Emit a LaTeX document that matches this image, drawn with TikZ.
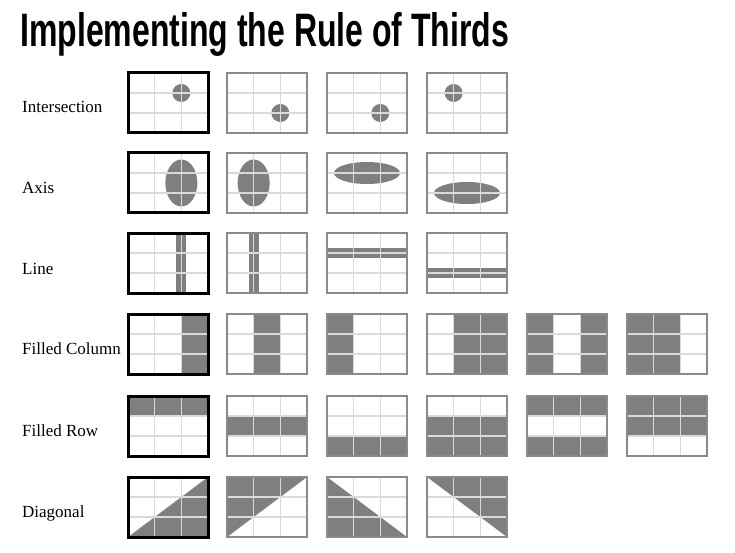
\documentclass[tikz,border=0pt]{standalone}
\usepackage{fontspec}
\setmainfont{Liberation Serif}
\newfontfamily\titlefont{Liberation Sans}
\usepackage{graphicx}
\definecolor{shadegray}{HTML}{7F7F7F}
\definecolor{gridgray}{HTML}{DADADA}
\definecolor{framegray}{HTML}{8A8A8A}
\tikzset{
  gridln/.style={draw=gridgray, line width=1.5pt},
  thinframe/.style={draw=framegray, line width=1.8pt},
  thickframe/.style={draw=black, line width=3pt},
  blob/.style={fill=shadegray},
  rowlabel/.style={anchor=base west, inner sep=0pt, font=\fontsize{17}{20}\selectfont},
}
\newcommand\rtframe[4]{%
  \begin{scope}[shift={(#1,#2)}]
    #4
    \draw[gridln] (80/3,0)--(80/3,60) (160/3,0)--(160/3,60) (0,20)--(80,20) (0,40)--(80,40);
    \draw[#3] (0,0) rectangle (80,60);
  \end{scope}}
\begin{document}
\begin{tikzpicture}[x=1pt,y=-1pt]
\fill[white] (0,0) rectangle (735,553);
\useasboundingbox (0,0) rectangle (735,553);

\node[anchor=base west, inner sep=0pt] (title) at (20,47) {\resizebox{489pt}{34pt}{\titlefont\bfseries Implementing the Rule of Thirds}};

\node[rowlabel] (l1) at (22,113) {Intersection};
\node[rowlabel] (l2) at (22,194) {Axis};
\node[rowlabel] (l3) at (22,274) {Line};
\node[rowlabel] (l4) at (22,354) {Filled Column};
\node[rowlabel] (l5) at (22,436) {Filled Row};
\node[rowlabel] (l6) at (22,517) {Diagonal};

% Row 1: Intersection
\rtframe{128}{73}{thickframe}{\fill[blob] (160/3,20) circle[radius=9pt];}
\rtframe{227}{73}{thinframe}{\fill[blob] (160/3,40) circle[radius=9pt];}
\rtframe{327}{73}{thinframe}{\fill[blob] (160/3,40) circle[radius=9pt];}
\rtframe{427}{73}{thinframe}{\fill[blob] (80/3,20) circle[radius=9pt];}

% Row 2: Axis
\rtframe{128}{153}{thickframe}{\fill[blob] (160/3,30) ellipse[x radius=16pt, y radius=23.5pt];}
\rtframe{227}{153}{thinframe}{\fill[blob] (80/3,30) ellipse[x radius=16pt, y radius=23.5pt];}
\rtframe{327}{153}{thinframe}{\fill[blob] (40,20) ellipse[x radius=33pt, y radius=11pt];}
\rtframe{427}{153}{thinframe}{\fill[blob] (40,40) ellipse[x radius=33pt, y radius=11pt];}

% Row 3: Line
\rtframe{128}{233}{thickframe}{\fill[blob] (160/3-5,0) rectangle (160/3+5,60);}
\rtframe{227}{233}{thinframe}{\fill[blob] (80/3-5,0) rectangle (80/3+5,60);}
\rtframe{327}{233}{thinframe}{\fill[blob] (0,15) rectangle (80,25);}
\rtframe{427}{233}{thinframe}{\fill[blob] (0,35) rectangle (80,45);}

% Row 4: Filled Column
\rtframe{128}{314}{thickframe}{\fill[blob] (160/3,0) rectangle (80,60);}
\rtframe{227}{314}{thinframe}{\fill[blob] (80/3,0) rectangle (160/3,60);}
\rtframe{327}{314}{thinframe}{\fill[blob] (0,0) rectangle (80/3,60);}
\rtframe{427}{314}{thinframe}{\fill[blob] (80/3,0) rectangle (80,60);}
\rtframe{527}{314}{thinframe}{\fill[blob] (0,0) rectangle (80/3,60) (160/3,0) rectangle (80,60);}
\rtframe{627}{314}{thinframe}{\fill[blob] (0,0) rectangle (160/3,60);}

% Row 5: Filled Row
\rtframe{128}{396}{thickframe}{\fill[blob] (0,0) rectangle (80,20);}
\rtframe{227}{396}{thinframe}{\fill[blob] (0,20) rectangle (80,40);}
\rtframe{327}{396}{thinframe}{\fill[blob] (0,40) rectangle (80,60);}
\rtframe{427}{396}{thinframe}{\fill[blob] (0,20) rectangle (80,60);}
\rtframe{527}{396}{thinframe}{\fill[blob] (0,0) rectangle (80,20) (0,40) rectangle (80,60);}
\rtframe{627}{396}{thinframe}{\fill[blob] (0,0) rectangle (80,40);}

% Row 6: Diagonal
\rtframe{128}{477}{thickframe}{\fill[blob] (0,60)--(80,60)--(80,0)--cycle;}
\rtframe{227}{477}{thinframe}{\fill[blob] (0,0)--(80,0)--(0,60)--cycle;}
\rtframe{327}{477}{thinframe}{\fill[blob] (0,0)--(0,60)--(80,60)--cycle;}
\rtframe{427}{477}{thinframe}{\fill[blob] (0,0)--(80,0)--(80,60)--cycle;}
\end{tikzpicture}
\end{document}
